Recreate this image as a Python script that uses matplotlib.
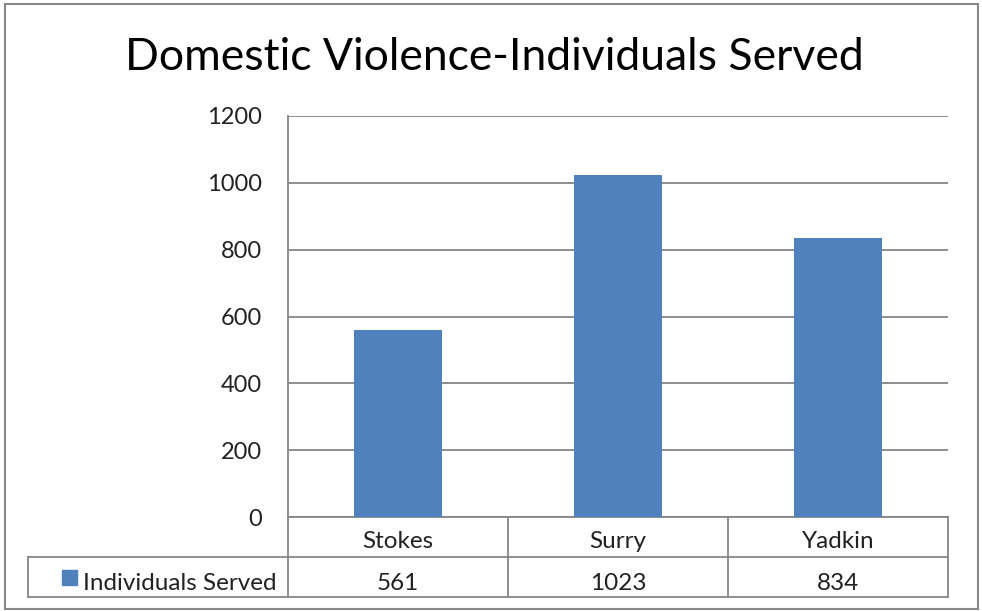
import matplotlib
matplotlib.use("Agg")
import matplotlib.pyplot as plt
from matplotlib.patches import Rectangle
from matplotlib.lines import Line2D

categories = ["Stokes", "Surry", "Yadkin"]
values = [561, 1023, 834]
series_name = "Individuals Served"
title = "Domestic Violence-Individuals Served"
yticks = [0, 200, 400, 600, 800, 1000, 1200]

plt.rcParams['font.family'] = ['Lato', 'DejaVu Sans']

W, H = 982, 611
fig = plt.figure(figsize=(W / 100, H / 100), dpi=100)

# axes position in pixels
L, R, T, B = 288, 948, 116, 517
ax = fig.add_axes([L / W, 1 - B / H, (R - L) / W, (B - T) / H])

bar_color = "#4F81BD"
grid_color = "#868686"
text_color = "#222222"

x = list(range(len(categories)))
ax.bar(x, values, width=0.4, color=bar_color, zorder=3)
ax.set_xlim(-0.5, len(categories) - 0.5)
ax.set_ylim(0, 1200)
ax.set_yticks(yticks)
ax.set_yticklabels([str(v) for v in yticks], fontsize=17, color=text_color)
ax.tick_params(axis='y', length=0, pad=19)
ax.set_xticks([])
for s in ['top', 'right', 'bottom']:
    ax.spines[s].set_visible(False)
ax.spines['left'].set_color(grid_color)
ax.spines['left'].set_linewidth(1.3)
ax.yaxis.grid(True, color=grid_color, linewidth=1.3, zorder=0)
ax.set_axisbelow(True)

# data table
px_per_unit = (R - L) / len(categories)
ph = B - T
row_h = 40 / ph  # axes-fraction height of one row
tr = ax.get_xaxis_transform()
left_edge = -0.5 - (L - 28) / px_per_unit
lw = 1.3
def hline(y, x0, x1):
    ax.add_line(Line2D([x0, x1], [y, y], transform=tr, color=grid_color, lw=lw, clip_on=False))
def vline(xv, y0, y1):
    ax.add_line(Line2D([xv, xv], [y0, y1], transform=tr, color=grid_color, lw=lw, clip_on=False))

n = len(categories)
hline(0, -0.5, n - 0.5)
hline(-row_h, left_edge, n - 0.5)
hline(-2 * row_h, left_edge, n - 0.5)
for i in range(n + 1):
    vline(i - 0.5, 0, -2 * row_h)
vline(left_edge, -row_h, -2 * row_h)

cat_base = -(548 - B) / ph
val_base = -(590 - B) / ph
for i, (c, v) in enumerate(zip(categories, values)):
    ax.text(i, cat_base, c, transform=tr, ha='center', va='baseline',
            fontsize=17.5, color=text_color, clip_on=False)
    ax.text(i, val_base, str(v), transform=tr, ha='center', va='baseline',
            fontsize=17.5, color=text_color, clip_on=False)

# legend key in table
key_x = left_edge + (62 - 28) / px_per_unit
key_w = 15 / px_per_unit
key_h = 15 / ph
ax.add_patch(Rectangle((key_x, -(585 - B) / ph), key_w, key_h,
                       transform=tr, color=bar_color, clip_on=False))
ax.text(key_x + key_w + 6 / px_per_unit, val_base, series_name, transform=tr,
        ha='left', va='baseline', fontsize=17.5, color=text_color, clip_on=False)

# title
fig.text(494 / W, 1 - 70 / H, title, ha='center', va='baseline', fontsize=32, color='black')

# outer border
fig.add_artist(Rectangle((5 / W, 1 - 609 / H), 973 / W, 605 / H, transform=fig.transFigure,
                         fill=False, edgecolor='#888888', linewidth=1.5))

fig.savefig("out.png", dpi=100)
